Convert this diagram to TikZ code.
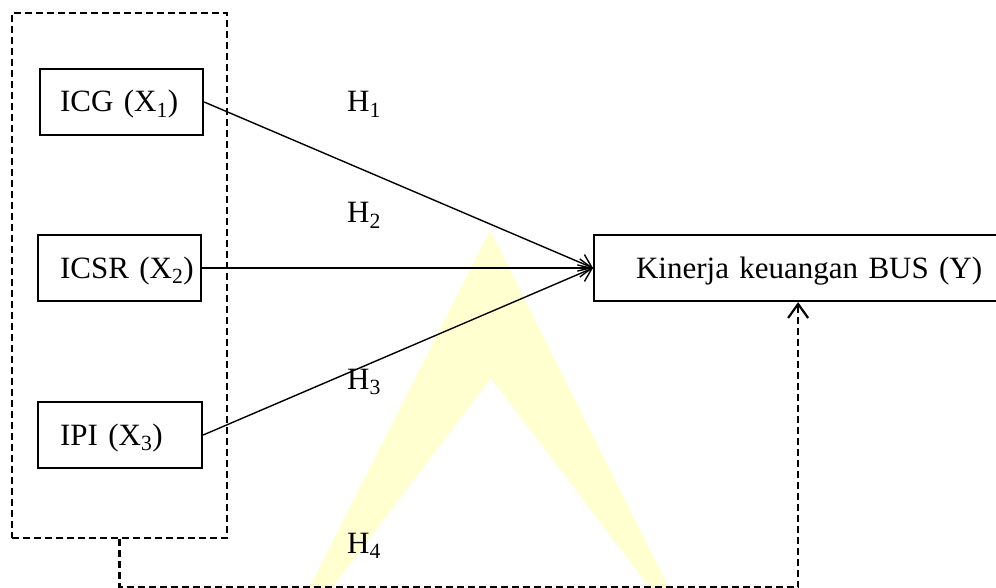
\documentclass[tikz,border=0pt]{standalone}
\usepackage{fontspec}
\setmainfont{Liberation Serif}
\usetikzlibrary{arrows.meta}
\definecolor{wmyellow}{RGB}{255,255,208}
\begin{document}
\begin{tikzpicture}[x=1pt,y=-1pt,
  every node/.style={font=\fontsize{31}{37}\selectfont},
  varbox/.style={draw, line width=2.2pt, rectangle, anchor=west, minimum height=66pt,
    text height=26pt, text depth=6pt, inner ysep=4pt, align=left},
  grpbox/.style={draw, line width=2.2pt, dash pattern=on 7pt off 4pt,
    minimum width=215pt, minimum height=525pt, inner sep=0pt},
  hyp/.style={anchor=base west, inner sep=0pt},
  link/.style={line width=1.4pt, -{Straight Barb[length=12pt,width=18pt,line width=1.4pt]}},
  dlink/.style={line width=2.2pt, dash pattern=on 7pt off 4pt,
    -{Straight Barb[length=14pt,width=20pt,line width=2.2pt]}}
]
\path[use as bounding box] (0,0) rectangle (996,588);
\clip (0,0) rectangle (996,588);
% watermark
\fill[wmyellow] (490,230) -- (303,600) -- (323,600) -- (491,378) -- (659,600) -- (675,600) -- cycle;
% group box
\node[grpbox] (grp) at (119.5,275.5) {};
% variable boxes
\node[varbox, inner xsep=20pt, text width=123pt] (icg) at (39,102) {\mbox{ICG (X\textsubscript{1})}};
\node[varbox, inner xsep=22pt, text width=119pt] (icsr) at (37,268) {\mbox{ICSR (X\textsubscript{2})}};
\node[varbox, inner xsep=22pt, text width=120pt] (ipi) at (37,435) {\mbox{IPI (X\textsubscript{3})}};
\node[varbox, inner xsep=42pt, text width=324pt] (y) at (593,268) {\mbox{Kinerja keuangan BUS (Y)}};
% hypothesis labels
\node[hyp] (h1) at (347,112) {H\textsubscript{1}};
\node[hyp] (h2) at (347,223) {H\textsubscript{2}};
\node[hyp] (h3) at (347,389) {H\textsubscript{3}};
\node[hyp] (h4) at (347,553) {H\textsubscript{4}};
% connectors
\draw[link] (icg.east) -- (y.west);
\draw[link] (icsr.east) -- (y.west);
\draw[link] (ipi.east) -- (y.west);
\draw[dlink] (grp.south) -- ++(0,48) -| (y.south);
\end{tikzpicture}
\end{document}
